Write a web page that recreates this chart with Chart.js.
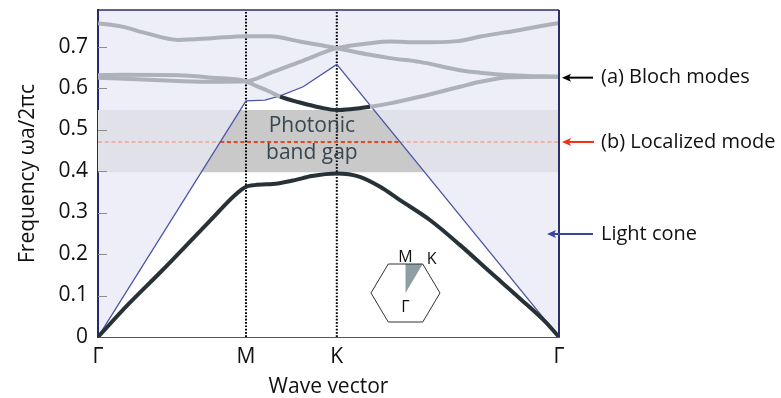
<!DOCTYPE html>
<html>
<head>
<meta charset="utf-8">
<script src="https://cdn.jsdelivr.net/npm/chart.js@4/dist/chart.umd.min.js"></script>
<style>
  html, body { margin: 0; padding: 0; background: #fff; }
  #wrap { width: 781px; height: 398px; }
</style>
</head>
<body>
<div id="wrap"><canvas id="bands" width="781" height="398"></canvas></div>
<script>
// path along the Brillouin zone, Γ -> M -> K -> Γ (normalised)
const kTicks = [0, 0.321, 0.518, 1];
const kLabels = ['Γ', 'M', 'K', 'Γ'];

// frequency bands, [k, ωa/2πc]
const band1 = [[0,0],[0.066,0.079],[0.138,0.159],[0.210,0.242],[0.250,0.288],[0.275,0.318],[0.295,0.340],[0.310,0.354],[0.321,0.362],[0.340,0.366],[0.390,0.370],[0.427,0.378],[0.464,0.388],[0.518,0.394],[0.568,0.386],[0.612,0.362],[0.655,0.330],[0.720,0.282],[0.785,0.222],[0.850,0.157],[0.915,0.093],[0.970,0.037],[1,0]];
const band2 = [[0,0.631],[0.052,0.632],[0.174,0.631],[0.247,0.625],[0.319,0.617],[0.341,0.606],[0.373,0.591],[0.395,0.579],[0.438,0.565],[0.482,0.553],[0.518,0.547],[0.547,0.549],[0.590,0.555],[0.633,0.563],[0.698,0.579],[0.785,0.603],[0.829,0.615],[0.894,0.626],[1,0.627]];
const band3 = [[0,0.625],[0.174,0.617],[0.247,0.615],[0.321,0.616],[0.373,0.636],[0.438,0.663],[0.518,0.696],[0.590,0.708],[0.633,0.712],[0.698,0.710],[0.781,0.713],[0.829,0.724],[0.915,0.740],[0.980,0.753],[1,0.757]];
const band4 = [[0,0.756],[0.052,0.748],[0.102,0.733],[0.174,0.716],[0.247,0.720],[0.319,0.725],[0.373,0.725],[0.438,0.712],[0.518,0.696],[0.590,0.680],[0.633,0.672],[0.698,0.663],[0.785,0.643],[0.829,0.637],[0.894,0.631],[1,0.627]];
const lightCone = [[0,0],[0.321,0.569],[0.362,0.571],[0.395,0.581],[0.445,0.603],[0.518,0.657],[1,0]];

const gapLow = 0.397;
const gapHigh = 0.547;
const localized = 0.47;
const yMax = 0.788;

const DARK = '#263238';
const GREY = '#adb1ba';

// linear interpolation of the light cone
function coneAt(x) {
  for (let i = 1; i < lightCone.length; i++) {
    const [x0, y0] = lightCone[i - 1], [x1, y1] = lightCone[i];
    if (x <= x1) return y0 + (y1 - y0) * (x - x0) / (x1 - x0);
  }
  return 0;
}
// first and last k where the cone crosses a frequency
function coneCross(level) {
  const hits = [];
  for (let i = 1; i < lightCone.length; i++) {
    const [x0, y0] = lightCone[i - 1], [x1, y1] = lightCone[i];
    if ((y0 - level) * (y1 - level) <= 0 && y0 !== y1) {
      hits.push(x0 + (x1 - x0) * (level - y0) / (y1 - y0));
    }
  }
  return [hits[0], hits[hits.length - 1]];
}

const pts = arr => arr.map(([x, y]) => ({ x, y }));
const below = ctx => {
  const mx = (ctx.p0.parsed.x + ctx.p1.parsed.x) / 2;
  const my = (ctx.p0.parsed.y + ctx.p1.parsed.y) / 2;
  return my < coneAt(mx) - 0.001;
};

const [gl0, gr0] = coneCross(gapLow);
const [gl1, gr1] = coneCross(gapHigh);
const gapInside = [[gl0, gapLow], [gl1, gapHigh], [gr1, gapHigh], [gr0, gapLow]];
const [rl, rr] = coneCross(localized);
const redLine = [[0, localized], [rl, localized], [rr, localized], [1, localized]];

const bandLine = (data, order) => ({
  data: pts(data),
  borderWidth: 4,
  borderColor: GREY,
  segment: { borderColor: ctx => below(ctx) ? DARK : GREY },
  cubicInterpolationMode: 'monotone',
  order
});

const FONT = '"Open Sans", sans-serif';

const frame = {
  id: 'frame',
  beforeDraw(chart) {
    const { ctx, chartArea: a } = chart;
    ctx.save();
    ctx.fillStyle = '#eeeef8';
    ctx.fillRect(a.left, a.top, a.right - a.left, a.bottom - a.top);
    ctx.restore();
  },
  afterDatasetsDraw(chart) {
    const { ctx, chartArea: a, scales } = chart;
    const xs = scales.x, ys = scales.y;
    ctx.save();
    // inner y ticks
    ctx.strokeStyle = '#8c8c8c';
    ctx.lineWidth = 1;
    ys.ticks.forEach(t => {
      if (t.value === 0) return;
      const y = Math.round(ys.getPixelForValue(t.value)) + 0.5;
      ctx.beginPath(); ctx.moveTo(a.left, y); ctx.lineTo(a.left + 9, y); ctx.stroke();
    });
    // top and right frame
    ctx.strokeStyle = '#2b2f6b';
    ctx.lineWidth = 1.5;
    ctx.beginPath(); ctx.moveTo(a.left, a.top); ctx.lineTo(a.right, a.top); ctx.stroke();
    ctx.lineWidth = 2;
    ctx.beginPath(); ctx.moveTo(a.right, a.top); ctx.lineTo(a.right, a.bottom); ctx.stroke();

    // band gap label
    ctx.fillStyle = '#37474f';
    ctx.font = '21px ' + FONT;
    ctx.textAlign = 'center';
    ctx.textBaseline = 'middle';
    const gx = xs.getPixelForValue(0.464);
    ctx.fillText('Photonic', gx, ys.getPixelForValue(0.508));
    ctx.fillText('band gap', gx, ys.getPixelForValue(0.444));

    // Brillouin zone inset
    const cx = xs.getPixelForValue(0.667), cy = ys.getPixelForValue(0.106);
    const R = 34.5, H = 29;
    ctx.fillStyle = '#8d9ea4';
    ctx.beginPath();
    ctx.moveTo(cx, cy); ctx.lineTo(cx, cy - H); ctx.lineTo(cx + R / 2, cy - H); ctx.closePath();
    ctx.fill();
    ctx.strokeStyle = '#333';
    ctx.lineWidth = 1;
    ctx.beginPath();
    ctx.moveTo(cx - R, cy); ctx.lineTo(cx - R / 2, cy - H); ctx.lineTo(cx + R / 2, cy - H);
    ctx.lineTo(cx + R, cy); ctx.lineTo(cx + R / 2, cy + H); ctx.lineTo(cx - R / 2, cy + H);
    ctx.closePath(); ctx.stroke();
    ctx.fillStyle = '#111';
    ctx.font = '16px ' + FONT;
    ctx.textBaseline = 'alphabetic';
    ctx.fillText('M', cx, cy - H - 2);
    ctx.fillText('K', cx + R / 2 + 9, cy - H);
    ctx.fillText('Γ', cx, cy + 19);

    // annotations on the right
    const arrow = (y, x0, x1, color) => {
      ctx.strokeStyle = color; ctx.fillStyle = color; ctx.lineWidth = 2;
      ctx.beginPath(); ctx.moveTo(x0, y); ctx.lineTo(x1 + 6, y); ctx.stroke();
      ctx.beginPath(); ctx.moveTo(x1, y); ctx.lineTo(x1 + 9, y - 4); ctx.lineTo(x1 + 7, y); ctx.lineTo(x1 + 9, y + 4);
      ctx.closePath(); ctx.fill();
    };
    const lx = a.right + 42;
    ctx.font = '20px ' + FONT;
    ctx.textAlign = 'left';
    ctx.textBaseline = 'middle';
    const yB = ys.getPixelForValue(0.625), yL = ys.getPixelForValue(localized), yC = ys.getPixelForValue(0.248);
    arrow(yB, a.right + 34, a.right + 3, '#000');
    arrow(yL, a.right + 35, a.right + 3, '#f2300f');
    arrow(yC, a.right + 34, a.right - 12, '#3c44a0');
    ctx.fillStyle = '#111';
    ctx.fillText('(a) Bloch modes', lx, yB);
    ctx.fillText('(b) Localized mode', lx, yL);
    ctx.fillText('Light cone', lx, yC);
    ctx.restore();
  }
};

Chart.defaults.font.family = FONT;
Chart.defaults.color = '#111';

new Chart(document.getElementById('bands'), {
  type: 'line',
  data: {
    datasets: [
      // full-width band gap stripe
      { data: pts([[0, gapHigh], [1, gapHigh]]), borderWidth: 0, fill: { value: gapLow }, backgroundColor: '#e1e1e9', order: 20 },
      // white region under the light cone
      { data: pts(lightCone), borderWidth: 0, fill: 'origin', backgroundColor: '#ffffff', order: 19 },
      // band gap inside the light cone
      { data: pts(gapInside), borderWidth: 0, fill: { value: gapLow }, backgroundColor: '#c9c9c9', order: 18 },
      // M and K markers
      { data: pts([[kTicks[1], 0], [kTicks[1], yMax]]), borderColor: '#000', borderWidth: 2, borderDash: [1.7, 1.6], order: 17 },
      { data: pts([[kTicks[2], 0], [kTicks[2], yMax]]), borderColor: '#000', borderWidth: 2, borderDash: [1.7, 1.6], order: 16 },
      // localized mode
      { data: pts(redLine), borderWidth: 2, borderDash: [4, 2.7], borderColor: '#f0b3a8',
        segment: { borderColor: ctx => below(ctx) ? '#e8461e' : '#f0b3a8' }, order: 15 },
      // light cone line
      { data: pts(lightCone), borderColor: '#4c55a6', borderWidth: 1.3, fill: false, order: 14 },
      bandLine(band4, 13),
      bandLine(band3, 12),
      bandLine(band2, 11),
      bandLine(band1, 10)
    ]
  },
  options: {
    responsive: false,
    animation: false,
    layout: { padding: { left: 0, right: 222, top: 10, bottom: 0 } },
    elements: { point: { radius: 0 }, line: { tension: 0 } },
    plugins: { legend: { display: false }, tooltip: { enabled: false } },
    scales: {
      x: {
        type: 'linear', min: 0, max: 1, z: 1,
        afterFit: s => { s.height = 61; s.paddingLeft = 0; s.paddingRight = 0; },
        afterBuildTicks: s => { s.ticks = kTicks.map(v => ({ value: v })); },
        ticks: { callback: (v, i) => kLabels[i], font: { size: 21 }, padding: 7, maxRotation: 0, autoSkip: false },
        grid: { display: false, drawTicks: false },
        border: { color: '#555', width: 2 },
        title: { display: true, text: 'Wave vector', font: { size: 21, lineHeight: 1 }, padding: { top: 0, bottom: 0 } }
      },
      y: {
        min: 0, max: yMax, z: 1,
        afterFit: s => { s.width = 98; s.paddingTop = 0; s.paddingBottom = 0; },
        ticks: { stepSize: 0.1, includeBounds: false, font: { size: 21 }, padding: 10,
          callback: v => v === 0 ? '0' : v.toFixed(1) },
        grid: { display: false, drawTicks: false },
        border: { color: '#252a6c', width: 2 },
        title: { display: true, text: 'Frequency ωa/2πc', font: { size: 21 }, padding: { top: 15, bottom: 0 } }
      }
    }
  },
  plugins: [frame]
});
</script>
</body>
</html>
